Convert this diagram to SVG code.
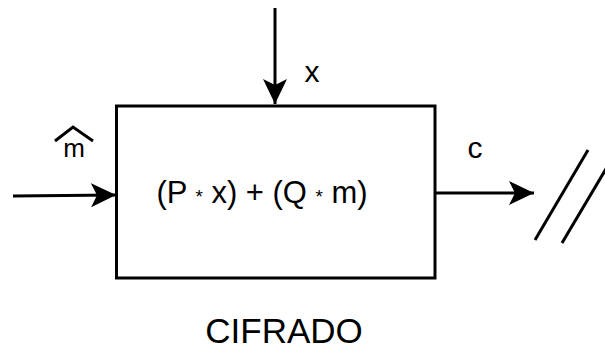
<svg xmlns="http://www.w3.org/2000/svg" width="605" height="350" viewBox="0 0 605 350">
<defs>
<style>
.t{font-family:"Liberation Sans",Arial,Helvetica,sans-serif;fill:#000}
.ln{stroke:#000;stroke-width:3;fill:none}
</style>
<marker id="ah" viewBox="0 0 26 26" refX="25" refY="13" markerWidth="26" markerHeight="26" markerUnits="userSpaceOnUse" orient="auto">
<path d="M25,13 L0,1 L6,13 L0,25 Z" fill="#000"/>
</marker>
</defs>
<rect width="605" height="350" fill="#fff"/>
<g id="box">
<rect class="ln" x="116.5" y="106" width="318.5" height="172"/>
<text class="t" x="262" y="203" font-size="31" text-anchor="middle" textLength="211" lengthAdjust="spacingAndGlyphs">(P <tspan font-size="19">*</tspan> x) + (Q <tspan font-size="19">*</tspan> m)</text>
</g>
<g id="label-cifrado">
<text class="t" x="284" y="343" font-size="35" text-anchor="middle">CIFRADO</text>
</g>
<g id="connectors">
<line class="ln" x1="275" y1="8" x2="275" y2="104" marker-end="url(#ah)"/>
<line class="ln" x1="13" y1="196" x2="116" y2="195" marker-end="url(#ah)"/>
<line class="ln" x1="435" y1="193" x2="534" y2="193" marker-end="url(#ah)"/>
</g>
<g id="labels">
<text class="t" x="312" y="82" font-size="30" text-anchor="middle">x</text>
<text class="t" x="475" y="158" font-size="30" text-anchor="middle">c</text>
<text class="t" x="74" y="157" font-size="26" text-anchor="middle">m</text>
<polyline class="ln" points="55,141 73,127 93,141" stroke-width="2.5"/>
</g>
<g id="break">
<line class="ln" x1="535" y1="240" x2="588" y2="150"/>
<line class="ln" x1="562" y1="243" x2="610" y2="162"/>
</g>
</svg>
